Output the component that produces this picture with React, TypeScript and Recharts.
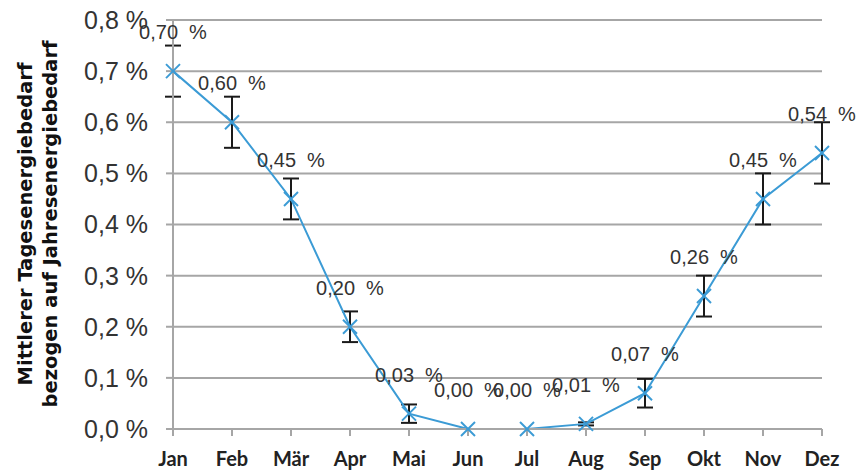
import React from "react";
import { LineChart, Line, XAxis, YAxis, CartesianGrid, ErrorBar, LabelList } from "recharts";

const months = ["Jan", "Feb", "Mär", "Apr", "Mai", "Jun", "Jul", "Aug", "Sep", "Okt", "Nov", "Dez"];
const share = [0.7, 0.6, 0.45, 0.2, 0.03, 0.0, 0.0, 0.01, 0.07, 0.26, 0.45, 0.54];
const spread = [0.05, 0.05, 0.04, 0.03, 0.018, 0, 0, 0.003, 0.028, 0.04, 0.05, 0.06];
const yTicks = [0, 0.1, 0.2, 0.3, 0.4, 0.5, 0.6, 0.7, 0.8];

const data = months.map((m, i) => ({ month: m, value: share[i], err: spread[i] }));

const fmtTick = (v: number) => v.toFixed(1).replace(".", ",") + " %";

const CrossDot = (props: any) => {
  const { cx, cy } = props;
  if (cx == null || cy == null) return null;
  const s = 7;
  return (
    <g stroke="#3b9bd5" strokeWidth={2}>
      <line x1={cx - s} y1={cy - s} x2={cx + s} y2={cy + s} />
      <line x1={cx - s} y1={cy + s} x2={cx + s} y2={cy - s} />
    </g>
  );
};

const ValueLabel = (props: any) => {
  const { x, y, value } = props;
  return (
    <text x={x} y={y - 32} textAnchor="middle" fontSize={20} fill="#333" fontFamily="Liberation Sans, Arial, sans-serif">
      {Number(value).toFixed(2).replace(".", ",") + "\u00a0\u00a0%"}
    </text>
  );
};

const AxisTitle = () => (
  <g fontFamily="DejaVu Sans, sans-serif" fontWeight="bold" fontSize={19.5} fill="#111">
    <text transform="translate(32,224) rotate(-90)" textAnchor="middle">Mittlerer Tagesenergiebedarf</text>
    <text transform="translate(57,224) rotate(-90)" textAnchor="middle">bezogen auf Jahresenergiebedarf</text>
  </g>
);

export default function App() {
  return (
    <div style={{ position: "absolute", left: 0, top: 0, width: 856, height: 474, background: "#fff" }}>
      <LineChart width={856} height={474} data={data} margin={{ top: 20, right: 34, bottom: 5, left: 0 }}>
        <CartesianGrid vertical={false} stroke="#a6a6a6" strokeWidth={2} />
        <XAxis
          dataKey="month"
          scale="point"
          padding={{ left: 0, right: 0 }}
          height={40}
          axisLine={{ stroke: "#a6a6a6", strokeWidth: 2 }}
          tickLine={{ stroke: "#a6a6a6", strokeWidth: 2 }}
          tickSize={7}
          tickMargin={16}
          tick={{ fontSize: 20, fontWeight: "bold", fill: "#222", fontFamily: "Lato, sans-serif" }}
        />
        <YAxis
          width={173}
          domain={[0, 0.8]}
          ticks={yTicks}
          tickFormatter={fmtTick}
          axisLine={{ stroke: "#a6a6a6", strokeWidth: 2 }}
          tickLine={{ stroke: "#a6a6a6", strokeWidth: 2 }}
          tickSize={7}
          tickMargin={18}
          tick={{ fontSize: 25, fill: "#333", fontFamily: "Liberation Sans, Arial, sans-serif" }}
          label={{ content: () => <AxisTitle /> }}
        />
        <Line
          dataKey="value"
          stroke="#3b9bd5"
          strokeWidth={2}
          dot={<CrossDot />}
          activeDot={false}
          isAnimationActive={false}
        >
          <ErrorBar dataKey="err" direction="y" width={8} stroke="#1a1a1a" strokeWidth={2} />
          <LabelList dataKey="value" content={<ValueLabel />} />
        </Line>
      </LineChart>
    </div>
  );
}
